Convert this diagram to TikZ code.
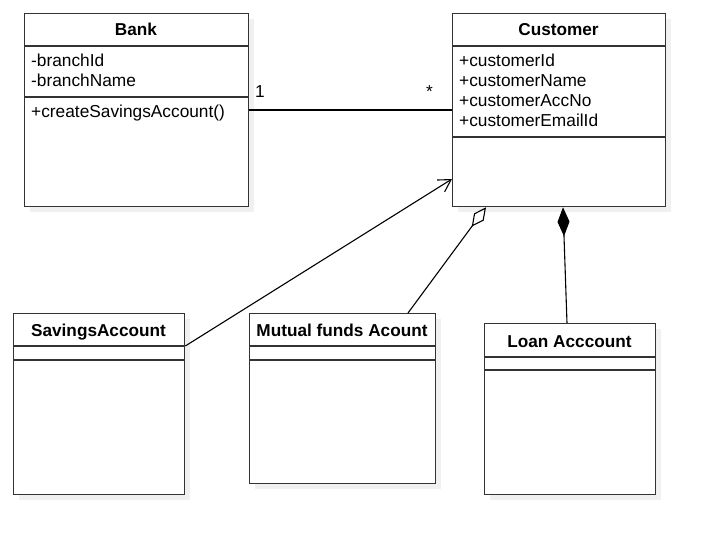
\documentclass[tikz,border=0pt]{standalone}
\usepackage{fontspec}
\setmainfont{Liberation Sans}
\usetikzlibrary{arrows.meta,shadows,positioning}
\tikzset{>=Straight Barb}
\tikzset{class box/.style={draw=black!80,line width=1.3pt,fill=white,anchor=north west,inner sep=0pt,
            drop shadow={shadow xshift=5pt,shadow yshift=-5pt,opacity=0.12}},
         class name/.style={font=\fontsize{17.2}{20}\selectfont\bfseries,anchor=base,inner sep=0pt},
         member/.style={font=\fontsize{17.3}{20}\selectfont,anchor=base west,inner sep=0pt},
         sep line/.style={draw=black!80,line width=1.3pt},
         link/.style={line width=1.1pt},
            }

\begin{document}
\begin{tikzpicture}[x=1pt,y=-1pt]
    \useasboundingbox (0,0) rectangle (720,548);

    % classes
    \node[class box,minimum width=224pt,minimum height=193pt] (bank) at (24,13) {};
    \node[class box,minimum width=213pt,minimum height=193pt] (customer) at (452,13) {};
    \node[class box,minimum width=171pt,minimum height=181pt] (savings) at (13,313) {};
    \node[class box,minimum width=186pt,minimum height=170pt] (mutual) at (249,313) {};
    \node[class box,minimum width=171pt,minimum height=171pt] (loan) at (484,323) {};

    \node[class name] (bank name) at (136,36) {Bank};
    \node[class name] (customer name) at (558.5,36) {Customer};
    \node[class name] (savings name) at (98.5,336) {SavingsAccount};
    \node[class name] (mutual name) at (342,336) {Mutual funds Acount};
    \node[class name] (loan name) at (569.5,347) {Loan Acccount};

    \path[sep line]
    ([yshift=-33pt]bank.north west) -- ([yshift=-33pt]bank.north east)
    ([yshift=-84pt]bank.north west) -- ([yshift=-84pt]bank.north east)
    ([yshift=-33pt]customer.north west) -- ([yshift=-33pt]customer.north east)
    ([yshift=-124pt]customer.north west) -- ([yshift=-124pt]customer.north east)
    ([yshift=-33pt]savings.north west) -- ([yshift=-33pt]savings.north east)
    ([yshift=-47pt]savings.north west) -- ([yshift=-47pt]savings.north east)
    ([yshift=-33pt]mutual.north west) -- ([yshift=-33pt]mutual.north east)
    ([yshift=-47pt]mutual.north west) -- ([yshift=-47pt]mutual.north east)
    ([yshift=-34pt]loan.north west) -- ([yshift=-34pt]loan.north east)
    ([yshift=-47pt]loan.north west) -- ([yshift=-47pt]loan.north east);

    % members
    \node[member] (b1) at (31,67) {-branchId};
    \node[member] (b2) at (31,87) {-branchName};
    \node[member] (b3) at (31,118) {+createSavingsAccount()};
    \node[member] (c1) at (459,67) {+customerId};
    \node[member] (c2) at (459,87) {+customerName};
    \node[member] (c3) at (459,107) {+customerAccNo};
    \node[member] (c4) at (459,127) {+customerEmailId};

    % relations
    \path[draw,link]
    ([yshift=-97pt]bank.north east) -- ([yshift=-97pt]customer.north west);
    \node[member] (one) at (255,98) {1};
    \node[member] (many) at (426,98) {*};

    \path[draw,link,->,>={Straight Barb[length=12pt,width=14pt]}]
    ([yshift=-33pt]savings.north east) -- ([yshift=-166pt]customer.north west);

    \path[draw,link,{Diamond[open,length=24pt,width=12pt]}-]
    ([xshift=34pt]customer.south west) -- ([xshift=159pt]mutual.north west);

    \path[draw,link,{Diamond[length=29pt,width=12pt]}-]
    ([xshift=111pt]customer.south west) -- ([xshift=83pt]loan.north west);

\end{tikzpicture}
\end{document}
